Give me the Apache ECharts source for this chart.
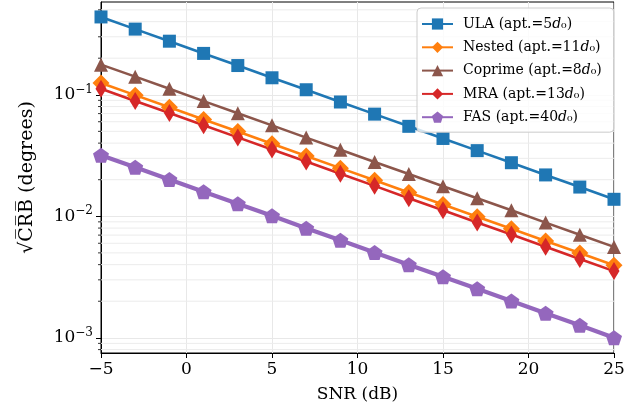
<!DOCTYPE html>
<html>
<head>
<meta charset="utf-8">
<script src="https://cdn.jsdelivr.net/npm/echarts@6/dist/echarts.min.js"></script>
<style>
  html, body { margin: 0; padding: 0; background: #fff; }
  #chart { width: 641px; height: 414px; }
</style>
</head>
<body>
<div id="chart"></div>
<script>
// SNR grid (dB)
const snr = [-5, -3, -1, 1, 3, 5, 7, 9, 11, 13, 15, 17, 19, 21, 23, 25];

// sqrt(CRB) in degrees for each array geometry
const ula     = [0.437, 0.347, 0.276, 0.219, 0.174, 0.138, 0.110, 0.0872, 0.0693, 0.0550, 0.0437, 0.0347, 0.0276, 0.0219, 0.0174, 0.0138];
const nested  = [0.125, 0.0993, 0.0789, 0.0627, 0.0498, 0.0395, 0.0314, 0.0249, 0.0198, 0.0157, 0.0125, 0.00993, 0.00789, 0.00627, 0.00498, 0.00395];
const coprime = [0.177, 0.141, 0.112, 0.0887, 0.0704, 0.0560, 0.0444, 0.0353, 0.0280, 0.0223, 0.0177, 0.0141, 0.0112, 0.00887, 0.00704, 0.00560];
const mra     = [0.112, 0.0890, 0.0707, 0.0562, 0.0446, 0.0354, 0.0282, 0.0224, 0.0178, 0.0141, 0.0112, 0.00890, 0.00707, 0.00562, 0.00446, 0.00354];
const fas     = [0.0318, 0.0253, 0.0201, 0.0159, 0.0127, 0.0101, 0.00798, 0.00634, 0.00504, 0.00400, 0.00318, 0.00253, 0.00201, 0.00159, 0.00127, 0.00100];

// Axis ranges and ticks
const xMin = -5, xMax = 25, xStep = 5;
const yMin = 0.00075, yMax = 0.58;
const yMajor = [0.001, 0.01, 0.1];
const yMinor = [0.0008, 0.0009,
  0.002, 0.003, 0.004, 0.005, 0.006, 0.007, 0.008, 0.009,
  0.02, 0.03, 0.04, 0.05, 0.06, 0.07, 0.08, 0.09,
  0.2, 0.3, 0.4, 0.5];

const serif = 'DejaVu Serif';
const pentagon = 'path://M0,-1L0.951,-0.309L0.588,0.809L-0.588,0.809L-0.951,-0.309Z';

function pairs(ys) { return snr.map((x, i) => [x, ys[i]]); }

function lineSeries(name, ys, color, symbol, size, width) {
  return {
    name: name,
    type: 'line',
    data: pairs(ys),
    symbol: symbol,
    symbolSize: size,
    showAllSymbol: true,
    lineStyle: { color: color, width: width },
    itemStyle: { color: color, borderColor: color, borderWidth: 0 },
    emphasis: { disabled: true },
    clip: false
  };
}

const legendLabel = {
  'ULA': '{t|ULA (apt.=5}{i|d}{t|₀)}',
  'Nested': '{t|Nested (apt.=11}{i|d}{t|₀)}',
  'Coprime': '{t|Coprime (apt.=8}{i|d}{t|₀)}',
  'MRA': '{t|MRA (apt.=13}{i|d}{t|₀)}',
  'FAS': '{t|FAS (apt.=40}{i|d}{t|₀)}'
};

const chart = echarts.init(document.getElementById('chart'), null, { renderer: 'canvas' });

chart.setOption({
  animation: false,
  backgroundColor: '#fff',
  grid: {
    left: 101, right: 27, top: 2, bottom: 61,
    show: true, borderColor: '#000', borderWidth: 1, backgroundColor: 'transparent'
  },
  legend: {
    data: ['ULA', 'Nested', 'Coprime', 'MRA', 'FAS'],
    orient: 'vertical',
    left: 417, top: 8,
    padding: [9, 12, 8, 4],
    itemWidth: 31, itemHeight: 14, itemGap: 9.3,
    backgroundColor: 'rgba(255,255,255,0.8)',
    borderColor: '#cccccc', borderWidth: 1, borderRadius: 4,
    formatter: n => legendLabel[n],
    textStyle: {
      padding: [0, 0, 0, 5],
      rich: {
        t: { fontFamily: serif, fontSize: 14, color: '#000' },
        i: { fontFamily: serif, fontSize: 14, fontStyle: 'italic', color: '#000' }
      }
    }
  },
  xAxis: {
    type: 'value', min: xMin, max: xMax, interval: xStep,
    name: 'SNR (dB)', nameLocation: 'middle', nameGap: 33,
    nameTextStyle: { fontFamily: serif, fontSize: 17, color: '#000' },
    axisLine: { show: true, onZero: false, lineStyle: { color: '#000', width: 1 } },
    axisTick: { show: true, inside: false, length: 5, lineStyle: { color: '#000', width: 1 } },
    axisLabel: {
      margin: 8, fontFamily: serif, fontSize: 17, color: '#000',
      formatter: v => (v < 0 ? '−' + Math.abs(v) : String(v))
    },
    splitLine: { show: true, lineStyle: { color: '#e8e8e8', width: 1 } }
  },
  yAxis: {
    type: 'log', logBase: 10, min: yMin, max: yMax,
    name: '√C̅R̅B̅ (degrees)', nameLocation: 'middle', nameGap: 64, nameRotate: 90,
    nameTextStyle: { fontFamily: serif, fontSize: 19, color: '#000' },
    axisLine: { show: true, onZero: false, lineStyle: { color: '#000', width: 1 } },
    axisTick: { show: true, inside: false, length: 5, customValues: yMajor, lineStyle: { color: '#000', width: 1 } },
    axisLabel: {
      margin: 8, customValues: yMajor,
      formatter: v => '{b|10}{s|−' + Math.round(-Math.log10(v)) + '}',
      rich: {
        b: { fontFamily: serif, fontSize: 17, color: '#000', lineHeight: 22 },
        s: { fontFamily: serif, fontSize: 12, color: '#000', verticalAlign: 'top', lineHeight: 12 }
      }
    },
    splitLine: { show: true, lineStyle: { color: '#e8e8e8', width: 1 } }
  },
  series: [
    {
      // minor log gridlines and minor ticks on the left spine
      type: 'custom',
      silent: true,
      z: 1,
      data: yMinor.map(v => [xMin, v]),
      renderItem: function (params, api) {
        const v = api.value(1);
        const a = api.coord([xMin, v]);
        const b = api.coord([xMax, v]);
        return {
          type: 'group',
          children: [
            { type: 'line', shape: { x1: a[0], y1: a[1], x2: b[0], y2: b[1] },
              style: { stroke: '#ececec', lineWidth: 1 } },
            { type: 'line', shape: { x1: a[0] - 3, y1: a[1], x2: a[0], y2: a[1] },
              style: { stroke: '#000', lineWidth: 0.8 } }
          ]
        };
      }
    },
    lineSeries('ULA', ula, '#1f77b4', 'rect', 13, 2.6),
    lineSeries('Nested', nested, '#ff7f0e', 'diamond', 17, 2.6),
    lineSeries('Coprime', coprime, '#8c564b', 'triangle', 14, 2.6),
    lineSeries('MRA', mra, '#d62728', 'diamond', [11, 18], 2.6),
    lineSeries('FAS', fas, '#9467bd', pentagon, [16, 15], 4.2)
  ]
});
</script>
</body>
</html>
